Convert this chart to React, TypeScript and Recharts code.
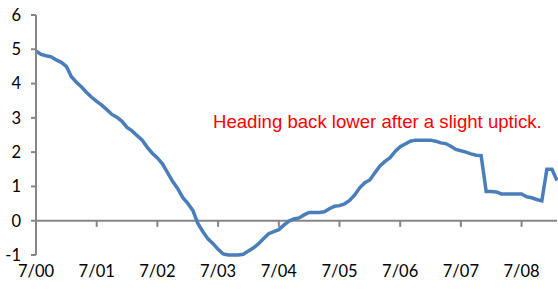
import React from 'react';
import { LineChart, Line, XAxis, YAxis, ReferenceLine } from 'recharts';

// months since July 2000
const months = Array.from({ length: 104 }, (_, i) => i);

const values = [
  4.95, 4.85, 4.81, 4.78, 4.69, 4.62, 4.5, 4.2, 4.04, 3.9, 3.74, 3.6,
  3.48, 3.37, 3.24, 3.1, 3.02, 2.9, 2.72, 2.62, 2.48, 2.35, 2.14, 1.97,
  1.83, 1.66, 1.4, 1.15, 0.94, 0.68, 0.51, 0.3, -0.08, -0.32, -0.53, -0.67,
  -0.83, -0.97, -1.0, -1.0, -1.0, -0.98, -0.88, -0.79, -0.67, -0.52, -0.38, -0.32,
  -0.26, -0.13, -0.01, 0.05, 0.08, 0.17, 0.24, 0.24, 0.24, 0.26, 0.35, 0.42,
  0.44, 0.49, 0.59, 0.75, 0.96, 1.11, 1.19, 1.4, 1.6, 1.73, 1.84, 2.02,
  2.16, 2.24, 2.32, 2.35, 2.35, 2.35, 2.35, 2.32, 2.27, 2.25, 2.17, 2.08,
  2.04, 2.0, 1.95, 1.91, 1.9, 0.85, 0.85, 0.84, 0.78, 0.78, 0.78, 0.78,
  0.78, 0.7, 0.67, 0.62, 0.58, 1.5, 1.5, 1.17,
];

const xTicks = [0, 12, 24, 36, 48, 60, 72, 84, 96];
const xLabels = ['7/00', '7/01', '7/02', '7/03', '7/04', '7/05', '7/06', '7/07', '7/08'];
const yTicks = [-1, 0, 1, 2, 3, 4, 5, 6];

const note = 'Heading back lower after a slight uptick.';

const data = months.map((m, i) => ({ m, v: values[i] }));

const AXIS = '#868686';
const FONT = 'Lato, sans-serif';

export default function App() {
  return (
    <div style={{ position: 'absolute', left: 0, top: 0, width: 558, height: 294, background: '#fff' }}>
      <LineChart width={558} height={294} data={data} margin={{ top: 15, right: 1, bottom: 0, left: 0 }}>
        <XAxis
          dataKey="m"
          type="number"
          domain={[0, 103]}
          ticks={xTicks}
          tickFormatter={(t) => xLabels[xTicks.indexOf(t)]}
          axisLine={false}
          tickLine={false}
          tickSize={0}
          tickMargin={10}
          height={39}
          tick={{ fill: '#000', fontSize: 16.5, fontFamily: FONT }}
        />
        <YAxis
          type="number"
          domain={[-1, 6]}
          ticks={yTicks}
          width={36}
          axisLine={{ stroke: AXIS, strokeWidth: 2 }}
          tickLine={{ stroke: AXIS, strokeWidth: 2 }}
          tickSize={5}
          tickMargin={10}
          tick={{ fill: '#000', fontSize: 16.5, fontFamily: FONT }}
        />
        <ReferenceLine y={0} stroke={AXIS} strokeWidth={2} />
        {xTicks.slice(1).map((t) => (
          <ReferenceLine
            key={t}
            segment={[{ x: t, y: 0 }, { x: t, y: -0.18 }]}
            stroke={AXIS}
            strokeWidth={2}
          />
        ))}
        <Line
          type="linear"
          dataKey="v"
          stroke="#4a7ebb"
          strokeWidth={3.5}
          dot={false}
          isAnimationActive={false}
        />
      </LineChart>
      <svg width={558} height={294} style={{ position: 'absolute', left: 0, top: 0, pointerEvents: 'none' }}>
        <text x={213} y={128} fill="#ff0000" fontSize={18.6} fontFamily="'Liberation Sans', Arial, sans-serif">
          {note}
        </text>
      </svg>
    </div>
  );
}
